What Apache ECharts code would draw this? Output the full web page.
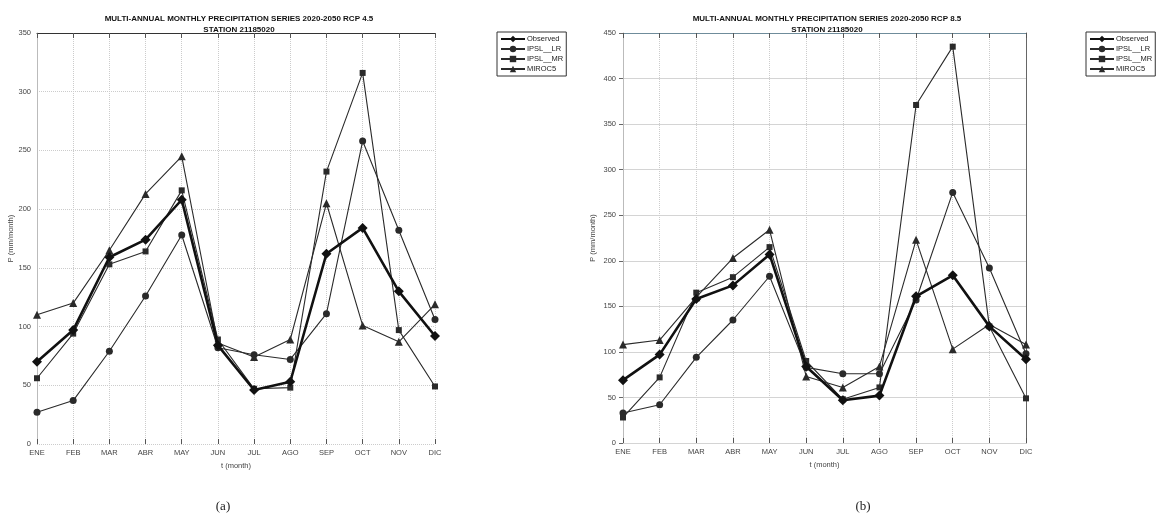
<!DOCTYPE html>
<html>
<head>
<meta charset="utf-8">
<script src="https://cdn.jsdelivr.net/npm/echarts@6/dist/echarts.min.js"></script>
<style>html,body{margin:0;padding:0;background:#fff;}#c{width:1156px;height:520px;}</style>
</head>
<body>
<div id="c"></div>
<script>
const months = ['ENE','FEB','MAR','ABR','MAY','JUN','JUL','AGO','SEP','OCT','NOV','DIC'];
const seriesNames = ['Observed','IPSL__LR','IPSL__MR','MIROC5'];
// RCP 4.5 (panel a)
const obs45 = [70, 97, 159, 174, 208, 84, 46, 53, 162, 184, 130, 92];
const lr45  = [27, 37, 79, 126, 178, 82, 76, 72, 111, 258, 182, 106];
const mr45  = [56, 94, 153, 164, 216, 89, 47, 48, 232, 316, 97, 49];
const mi45  = [110, 120, 165, 213, 245, 86, 74, 89, 205, 101, 87, 119];
// RCP 8.5 (panel b)
const obs85 = [69, 97, 158, 173, 207, 84, 47, 52, 161, 184, 128, 92];
const lr85  = [33, 42, 94, 135, 183, 83, 76, 76, 157, 275, 192, 98];
const mr85  = [28, 72, 165, 182, 215, 90, 48, 61, 371, 435, 128, 49];
const mi85  = [108, 113, 160, 203, 234, 73, 61, 84, 223, 103, 130, 108];
const yTicks45 = {min: 0, max: 350, interval: 50};
const yTicks85 = {min: 0, max: 450, interval: 50};

const FONT = 'Liberation Sans';
const chart = echarts.init(document.getElementById('c'), null, {renderer: 'canvas'});

const styles = [
  {symbol: 'diamond', symbolSize: 10, width: 2.6, color: '#111'},
  {symbol: 'circle', symbolSize: 7, width: 1.1, color: '#2a2a2a'},
  {symbol: 'rect', symbolSize: 6, width: 1.1, color: '#2a2a2a'},
  {symbol: 'triangle', symbolSize: 8, width: 1.1, color: '#2a2a2a'}
];

function mkSeries(dataArrs, gi) {
  return dataArrs.map((d, i) => ({
    type: 'line',
    name: seriesNames[i],
    xAxisIndex: gi * 2,
    yAxisIndex: gi * 2,
    data: d,
    symbol: styles[i].symbol,
    symbolSize: styles[i].symbolSize,
    showAllSymbol: true,
    lineStyle: {width: styles[i].width, color: styles[i].color},
    itemStyle: {color: styles[i].color},
    z: i === 0 ? 5 : 3,
    animation: false
  }));
}

function xAxes(gi, topColor) {
  return [
    {
      type: 'category', gridIndex: gi, data: months, boundaryGap: false, position: 'bottom',
      name: 't (month)', nameLocation: 'middle', nameGap: 18,
      nameTextStyle: {fontFamily: FONT, fontSize: 7.5, color: '#444'},
      axisLine: {show: false},
      axisTick: {show: true, inside: true, length: 5, lineStyle: {color: '#555'}},
      axisLabel: {fontFamily: FONT, fontSize: 7.5, color: '#444', margin: 5},
      splitLine: {show: true, lineStyle: {color: '#ccc', type: 'dotted', width: 1}}
    },
    {
      type: 'category', gridIndex: gi, data: months, boundaryGap: false, position: 'top',
      axisLine: {show: true, onZero: false, lineStyle: {color: topColor, width: 1}},
      axisTick: {show: true, inside: true, length: 5, lineStyle: {color: '#555'}},
      axisLabel: {show: false},
      splitLine: {show: false}
    }
  ];
}

function yAxes(gi, ticks, gridSolid, outTicks) {
  return [
    {
      type: 'value', gridIndex: gi, min: ticks.min, max: ticks.max, interval: ticks.interval,
      name: 'P (mm/month)', nameLocation: 'middle', nameGap: gi === 0 ? 20 : 26,
      nameTextStyle: {fontFamily: FONT, fontSize: 7.5, color: '#444'},
      axisLine: {show: true, lineStyle: {color: '#bbb'}},
      axisTick: {show: outTicks, length: 4, lineStyle: {color: '#666'}},
      axisLabel: {fontFamily: FONT, fontSize: 7.5, color: '#444', margin: outTicks ? 7 : 6},
      splitLine: {show: true, lineStyle: gridSolid ? {color: '#d4d4d4', type: 'solid', width: 1} : {color: '#ccc', type: 'dotted', width: 1}}
    },
    {
      type: 'value', gridIndex: gi, min: ticks.min, max: ticks.max, interval: ticks.interval, position: 'right',
      axisLine: {show: gi === 1, lineStyle: {color: '#666'}},
      axisTick: {show: false}, axisLabel: {show: false}, splitLine: {show: false}
    }
  ];
}

const legendCommon = {
  orient: 'vertical', itemWidth: 24, itemHeight: 8, itemGap: 2,
  padding: [3, 3, 3, 3], borderColor: '#333', borderWidth: 1, backgroundColor: '#fff',
  textStyle: {fontFamily: FONT, fontSize: 7.5, color: '#222', padding: [0, 0, 0, -3]},
  data: seriesNames, selectedMode: false
};

const titleStyle = {fontFamily: FONT, fontSize: 8, fontWeight: 'bold', color: '#111', lineHeight: 11};

chart.setOption({
  animation: false,
  backgroundColor: '#fff',
  title: [
    {text: 'MULTI-ANNUAL MONTHLY PRECIPITATION SERIES 2020-2050 RCP 4.5\nSTATION 21185020', left: 234, top: 8, textAlign: 'center', textStyle: titleStyle},
    {text: 'MULTI-ANNUAL MONTHLY PRECIPITATION SERIES 2020-2050 RCP 8.5\nSTATION 21185020', left: 822, top: 8, textAlign: 'center', textStyle: titleStyle},
    {text: '(a)', left: 218, top: 495, textAlign: 'center', textStyle: {fontFamily: 'Liberation Serif', fontSize: 13, fontWeight: 'normal', color: '#222'}},
    {text: '(b)', left: 858, top: 495, textAlign: 'center', textStyle: {fontFamily: 'Liberation Serif', fontSize: 13, fontWeight: 'normal', color: '#222'}}
  ],
  legend: [
    Object.assign({left: 497, top: 32}, legendCommon),
    Object.assign({left: 1086, top: 32}, legendCommon)
  ],
  grid: [
    {left: 37, right: 721, top: 33, bottom: 76, containLabel: false},
    {left: 623, right: 130, top: 33, bottom: 77, containLabel: false}
  ],
  xAxis: [].concat(xAxes(0, '#333'), xAxes(1, '#6f8c9b')),
  yAxis: [].concat(yAxes(0, yTicks45, false, false), yAxes(1, yTicks85, true, true)),
  series: [].concat(
    mkSeries([obs45, lr45, mr45, mi45], 0),
    mkSeries([obs85, lr85, mr85, mi85], 1)
  )
});
</script>
</body>
</html>
